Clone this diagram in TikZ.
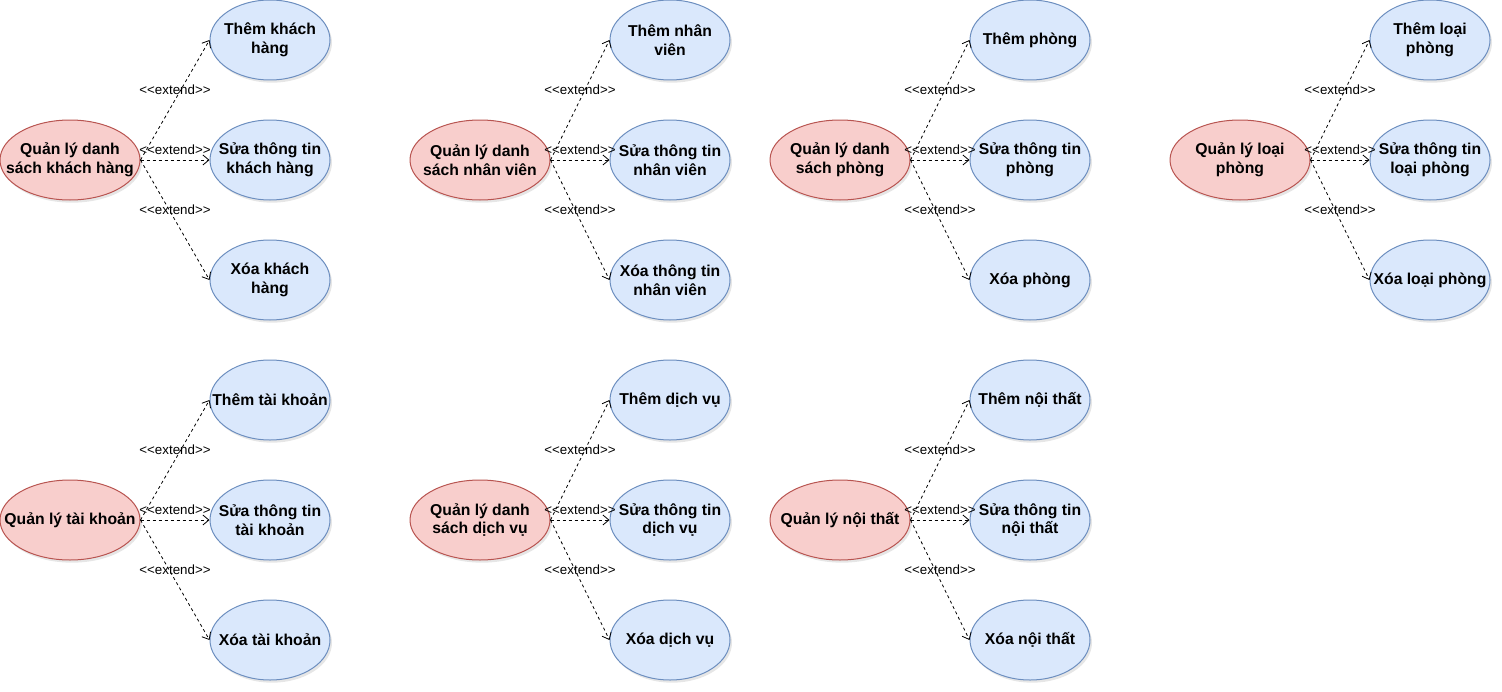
\documentclass[tikz,border=0pt]{standalone}
\usepackage{fontspec}
\setmainfont{Liberation Sans}
\usetikzlibrary{shapes.geometric,arrows.meta,shadows}

\definecolor{rojo}{HTML}{B85450}
\definecolor{rosa}{HTML}{F8CECC}
\definecolor{azul}{HTML}{6C8EBF}
\definecolor{celeste}{HTML}{DAE8FC}
\tikzset{
  quanly/.style={ellipse,draw=rojo,fill=rosa,line width=0.75pt,
    minimum width=105pt,minimum height=60pt,inner xsep=-20pt,inner ysep=0pt,align=center,
    font=\fontsize{11.8}{14.2}\selectfont\bfseries,
    drop shadow={shadow xshift=1.5pt,shadow yshift=-2pt,opacity=0.2}},
  chucnang/.style={quanly,minimum width=90pt,draw=azul,fill=celeste},
  mo/.style={dash pattern=on 2.25pt off 2.25pt,line width=0.6pt,
    -{Straight Barb[length=4.5pt,width=7.5pt]}},
  nhan/.style={midway,yshift=7.5pt,font=\fontsize{10}{12}\selectfont,inner sep=0pt}
}
\newcommand{\ext}{{<}{<}extend{>}{>}}

\begin{document}
\begin{tikzpicture}[x=0.75pt,y=-0.75pt]
		\useasboundingbox (0,0) rectangle (1502,692);

		%Khach hang
		\node[quanly] (kh) at (70,160) {Quản lý danh\\sách khách hàng};
		\node[chucnang] (kh1) at (270,40) {Thêm khách\\hàng};
		\node[chucnang] (kh2) at (270,160) {Sửa thông tin\\khách hàng};
		\node[chucnang] (kh3) at (270,280) {Xóa khách\\hàng};
		\draw[mo] (kh.east) -- (kh1.west) node[nhan]{\ext};
		\draw[mo] (kh.east) -- (kh2.west) node[nhan]{\ext};
		\draw[mo] (kh.east) -- (kh3.west) node[nhan]{\ext};

		%Nhan vien
		\node[quanly] (nv) at (480,160) {Quản lý danh\\sách nhân viên};
		\node[chucnang] (nv1) at (670,40) {Thêm nhân\\viên};
		\node[chucnang] (nv2) at (670,160) {Sửa thông tin\\nhân viên};
		\node[chucnang] (nv3) at (670,280) {Xóa thông tin\\nhân viên};
		\draw[mo] (nv.east) -- (nv1.west) node[nhan]{\ext};
		\draw[mo] (nv.east) -- (nv2.west) node[nhan]{\ext};
		\draw[mo] (nv.east) -- (nv3.west) node[nhan]{\ext};

		%Phong
		\node[quanly] (ph) at (840,160) {Quản lý danh\\sách phòng};
		\node[chucnang] (ph1) at (1030,40) {Thêm phòng};
		\node[chucnang] (ph2) at (1030,160) {Sửa thông tin\\phòng};
		\node[chucnang] (ph3) at (1030,280) {Xóa phòng};
		\draw[mo] (ph.east) -- (ph1.west) node[nhan]{\ext};
		\draw[mo] (ph.east) -- (ph2.west) node[nhan]{\ext};
		\draw[mo] (ph.east) -- (ph3.west) node[nhan]{\ext};

		%Loai phong
		\node[quanly] (lp) at (1240,160) {Quản lý loại\\phòng};
		\node[chucnang] (lp1) at (1430,40) {Thêm loại\\phòng};
		\node[chucnang] (lp2) at (1430,160) {Sửa thông tin\\loại phòng};
		\node[chucnang] (lp3) at (1430,280) {Xóa loại phòng};
		\draw[mo] (lp.east) -- (lp1.west) node[nhan]{\ext};
		\draw[mo] (lp.east) -- (lp2.west) node[nhan]{\ext};
		\draw[mo] (lp.east) -- (lp3.west) node[nhan]{\ext};

		%Tai khoan
		\node[quanly] (tk) at (70,520) {Quản lý tài khoản};
		\node[chucnang] (tk1) at (270,400) {Thêm tài khoản};
		\node[chucnang] (tk2) at (270,520) {Sửa thông tin\\tài khoản};
		\node[chucnang] (tk3) at (270,640) {Xóa tài khoản};
		\draw[mo] (tk.east) -- (tk1.west) node[nhan]{\ext};
		\draw[mo] (tk.east) -- (tk2.west) node[nhan]{\ext};
		\draw[mo] (tk.east) -- (tk3.west) node[nhan]{\ext};

		%Dich vu
		\node[quanly] (dv) at (480,520) {Quản lý danh\\sách dịch vụ};
		\node[chucnang] (dv1) at (670,400) {Thêm dịch vụ};
		\node[chucnang] (dv2) at (670,520) {Sửa thông tin\\dịch vụ};
		\node[chucnang] (dv3) at (670,640) {Xóa dịch vụ};
		\draw[mo] (dv.east) -- (dv1.west) node[nhan]{\ext};
		\draw[mo] (dv.east) -- (dv2.west) node[nhan]{\ext};
		\draw[mo] (dv.east) -- (dv3.west) node[nhan]{\ext};

		%Noi that
		\node[quanly] (nt) at (840,520) {Quản lý nội thất};
		\node[chucnang] (nt1) at (1030,400) {Thêm nội thất};
		\node[chucnang] (nt2) at (1030,520) {Sửa thông tin\\nội thất};
		\node[chucnang] (nt3) at (1030,640) {Xóa nội thất};
		\draw[mo] (nt.east) -- (nt1.west) node[nhan]{\ext};
		\draw[mo] (nt.east) -- (nt2.west) node[nhan]{\ext};
		\draw[mo] (nt.east) -- (nt3.west) node[nhan]{\ext};

	\end{tikzpicture}
\end{document}
